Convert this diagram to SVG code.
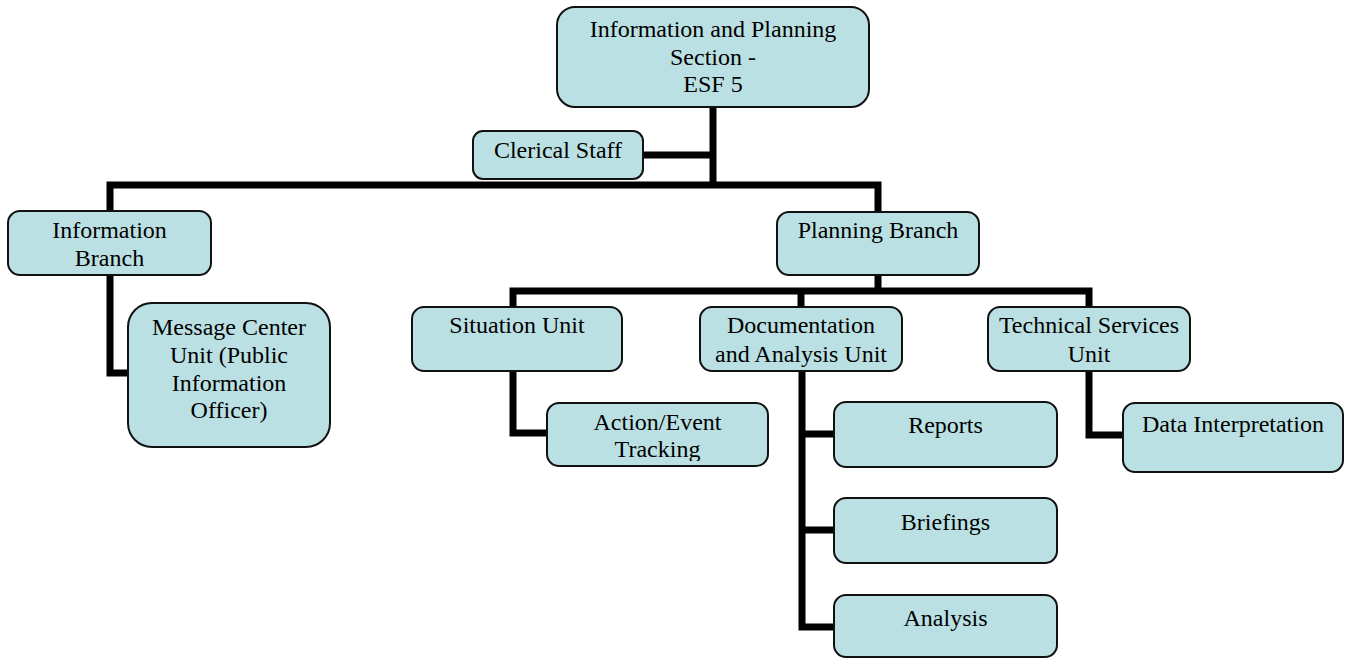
<svg xmlns="http://www.w3.org/2000/svg" width="1348" height="658" viewBox="0 0 1348 658">
  <style>
    .box { fill: #bbe0e3; stroke: #111; stroke-width: 2; }
    .lbl { font-size: 24px; fill: #000; text-anchor: middle; }
    .link { fill: none; stroke: #000; stroke-width: 7; stroke-linejoin: miter; stroke-linecap: butt; }
  </style>
  <defs>
    <clipPath id="clip-action">
      <rect x="547" y="403" width="221" height="58"/>
    </clipPath>
  </defs>
  <rect width="1348" height="658" fill="#fff"/>

  <!-- org-chart connectors -->
  <g id="connectors">
    <path class="link" d="M713,107 V185"/>
    <path class="link" d="M643,155 H713"/>
    <path class="link" d="M110,211 V185 H878 V212"/>
    <path class="link" d="M110,275 V373 H128"/>
    <path class="link" d="M878,275 V291"/>
    <path class="link" d="M513,307 V291 H1089 V307"/>
    <path class="link" d="M801,291 V307"/>
    <path class="link" d="M513,371 V433 H547"/>
    <path class="link" d="M802,371 V627 H834"/>
    <path class="link" d="M802,434 H834"/>
    <path class="link" d="M802,530 H834"/>
    <path class="link" d="M1089,371 V435 H1123"/>
  </g>

  <g id="nodes" font-family="'Liberation Serif', 'Times New Roman', 'DejaVu Serif', serif">
  <g id="section">
    <rect class="box" x="557" y="7" width="312" height="100" rx="18"/>
    <text class="lbl" x="713" y="37">Information and Planning</text>
    <text class="lbl" x="713" y="65">Section -</text>
    <text class="lbl" x="713" y="92">ESF 5</text>
  </g>
  <g id="clerical">
    <rect class="box" x="473" y="131" width="170" height="48" rx="10"/>
    <text class="lbl" x="558" y="158">Clerical Staff</text>
  </g>
  <g id="information-branch">
    <rect class="box" x="8" y="211" width="203" height="64" rx="12"/>
    <text class="lbl" x="109.5" y="238">Information</text>
    <text class="lbl" x="109.5" y="266">Branch</text>
  </g>
  <g id="message-center">
    <rect class="box" x="128" y="303" width="202" height="144" rx="24"/>
    <text class="lbl" x="229" y="335">Message Center</text>
    <text class="lbl" x="229" y="363">Unit (Public</text>
    <text class="lbl" x="229" y="391">Information</text>
    <text class="lbl" x="229" y="418">Officer)</text>
  </g>
  <g id="planning-branch">
    <rect class="box" x="777" y="212" width="202" height="63" rx="12"/>
    <text class="lbl" x="878" y="238">Planning Branch</text>
  </g>
  <g id="situation">
    <rect class="box" x="412" y="307" width="210" height="64" rx="12"/>
    <text class="lbl" x="517" y="333">Situation Unit</text>
  </g>
  <g id="action-tracking">
    <rect class="box" x="547" y="403" width="221" height="63" rx="12"/>
    <g clip-path="url(#clip-action)">
      <text class="lbl" x="657.5" y="430">Action/Event</text>
      <text class="lbl" x="657.5" y="457">Tracking</text>
    </g>
  </g>
  <g id="documentation">
    <rect class="box" x="700" y="307" width="202" height="64" rx="12"/>
    <text class="lbl" x="801" y="333">Documentation</text>
    <text class="lbl" x="801" y="362">and Analysis Unit</text>
  </g>
  <g id="technical-services">
    <rect class="box" x="988" y="307" width="202" height="64" rx="12"/>
    <text class="lbl" x="1089" y="333">Technical Services</text>
    <text class="lbl" x="1089" y="362">Unit</text>
  </g>
  <g id="data-interpretation">
    <rect class="box" x="1123" y="403" width="220" height="69" rx="12"/>
    <text class="lbl" x="1233" y="432">Data Interpretation</text>
  </g>
  <g id="reports">
    <rect class="box" x="834" y="402" width="223" height="65" rx="12"/>
    <text class="lbl" x="945.5" y="433">Reports</text>
  </g>
  <g id="briefings">
    <rect class="box" x="834" y="498" width="223" height="65" rx="12"/>
    <text class="lbl" x="945.5" y="530">Briefings</text>
  </g>
  <g id="analysis">
    <rect class="box" x="834" y="595" width="223" height="62" rx="12"/>
    <text class="lbl" x="945.5" y="626">Analysis</text>
  </g>
  </g>
</svg>
